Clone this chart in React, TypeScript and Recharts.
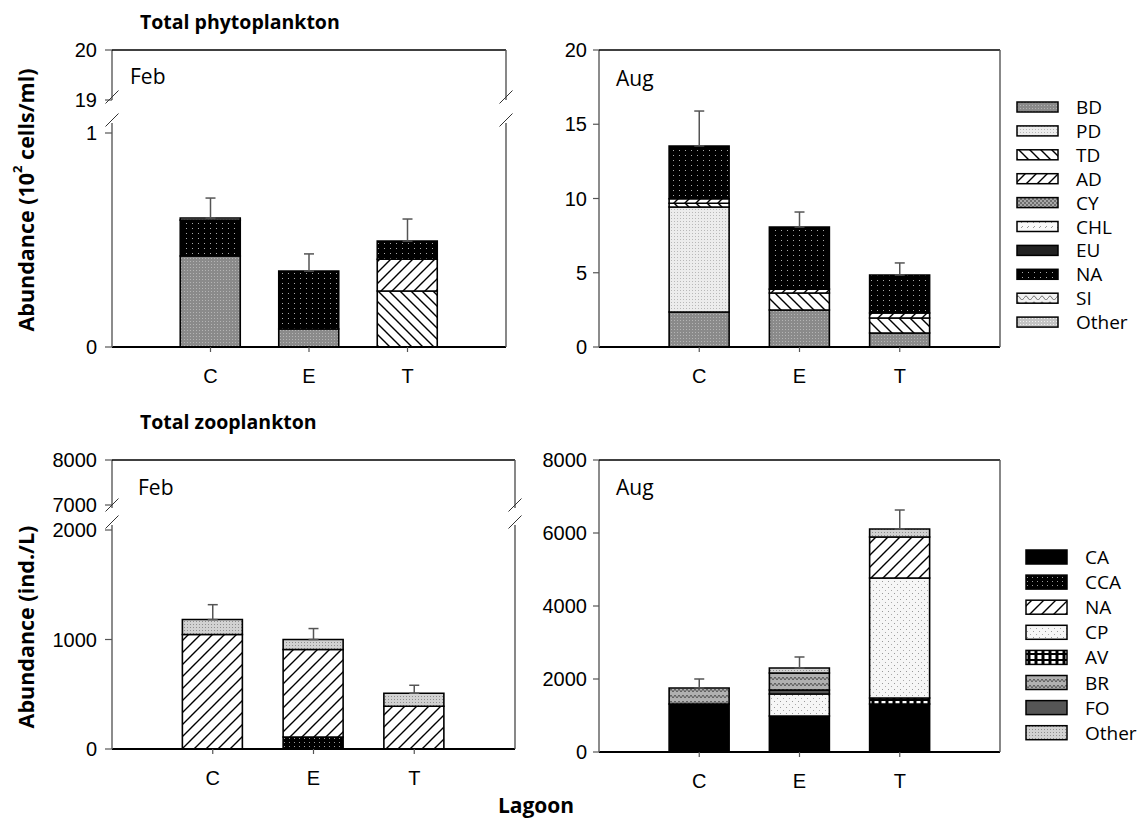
import React from "react";
import { ComposedChart, Bar, Scatter, ErrorBar, XAxis, YAxis } from "recharts";

const lagoons = ["C", "E", "T"];

const phytoGroups = ["BD", "PD", "TD", "AD", "CY", "CHL", "EU", "NA", "SI", "Other"];
const zooGroups = ["CA", "CCA", "NA", "CP", "AV", "BR", "FO", "Other"];
// stacking order of the zooplankton bars (bottom to top)
const zooStack = ["CA", "CCA", "AV", "CP", "NA", "FO", "BR", "Other"];

// phytoplankton, Feb (10^2 cells/ml), lagoons C, E, T
const phytoFebBD = [0.425, 0.084, 0];
const phytoFebTD = [0, 0, 0.262];
const phytoFebAD = [0, 0, 0.148];
const phytoFebNA = [0.168, 0.271, 0.085];
const phytoFebOther = [0.01, 0, 0];
const phytoFebSE = [0.093, 0.08, 0.103];

// phytoplankton, Aug
const phytoAugBD = [2.36, 2.49, 0.94];
const phytoAugPD = [7.07, 0, 0];
const phytoAugTD = [0.25, 1.15, 1.01];
const phytoAugAD = [0.3, 0.26, 0.34];
const phytoAugNA = [3.56, 4.18, 2.56];
const phytoAugSE = [2.35, 1.01, 0.81];

// zooplankton, Feb (ind./L)
const zooFebCCA = [0, 109, 0];
const zooFebNA = [1045, 800, 390];
const zooFebOther = [137, 91, 119];
const zooFebSE = [136, 100, 73];

// zooplankton, Aug
const zooAugCA = [1315, 986, 1315];
const zooAugAV = [0, 0, 164];
const zooAugCP = [0, 603, 3288];
const zooAugNA = [0, 0, 1123];
const zooAugFO = [0, 110, 0];
const zooAugBR = [440, 465, 0];
const zooAugOther = [0, 137, 220];
const zooAugSE = [245, 302, 520];

const phytoFill: Record<string, string> = {
  BD: "url(#pBD)",
  PD: "url(#pPD)",
  TD: "url(#pTD)",
  AD: "url(#pAD)",
  CY: "url(#pCY)",
  CHL: "url(#pCHL)",
  EU: "#222",
  NA: "url(#pNA)",
  SI: "url(#pSI)",
  Other: "url(#pOther)",
};

const zooFill: Record<string, string> = {
  CA: "#000",
  CCA: "url(#zCCA)",
  NA: "url(#zNA)",
  CP: "url(#zCP)",
  AV: "url(#zAV)",
  BR: "url(#zBR)",
  FO: "#555",
  Other: "url(#zOther)",
};

const buildRows = (series: Record<string, number[]>, se: number[]) =>
  lagoons.map((cat, i) => {
    const row: any = { cat };
    let total = 0;
    Object.keys(series).forEach((k) => {
      row[k] = series[k][i];
      total += series[k][i];
    });
    row.total = total;
    row.se = [0, se[i]];
    return row;
  });

const phytoFebData = buildRows(
  { BD: phytoFebBD, TD: phytoFebTD, AD: phytoFebAD, NA: phytoFebNA, Other: phytoFebOther },
  phytoFebSE
);
const phytoAugData = buildRows(
  { BD: phytoAugBD, PD: phytoAugPD, TD: phytoAugTD, AD: phytoAugAD, NA: phytoAugNA },
  phytoAugSE
);
const zooFebData = buildRows({ CCA: zooFebCCA, NA: zooFebNA, Other: zooFebOther }, zooFebSE);
const zooAugData = buildRows(
  {
    CA: zooAugCA,
    AV: zooAugAV,
    CP: zooAugCP,
    NA: zooAugNA,
    FO: zooAugFO,
    BR: zooAugBR,
    Other: zooAugOther,
  },
  zooAugSE
);

const TICK_FONT = '"Liberation Sans", Arial, sans-serif';
const TEXT_FONT = '"Open Sans", sans-serif';

type Box = { x0: number; y0: number; x1: number; y1: number };

// plot areas in page pixels
const phFebUp: Box = { x0: 112, y0: 50, x1: 506, y1: 100 };
const phFebLo: Box = { x0: 112, y0: 123, x1: 506, y1: 347 };
const phAug: Box = { x0: 599, y0: 50, x1: 1000, y1: 347 };
const zFebUp: Box = { x0: 112, y0: 460, x1: 515, y1: 508 };
const zFebLo: Box = { x0: 112, y0: 525, x1: 515, y1: 749 };
const zAug: Box = { x0: 599, y0: 460, x1: 1000, y1: 752 };

const PAD_L = 90;
const PAD_T = 12;
const PAD_R = 12;
const PAD_B = 50;
const PAD_B_UPPER = 16;

interface PanelProps {
  box: Box;
  data: any[];
  stack: string[];
  fills: Record<string, string>;
  domain: [number, number];
  ticks: number[];
  showX: boolean;
  tickSize: number;
  tickMargin: number;
}

const Panel = ({ box, data, stack, fills, domain, ticks, showX, tickSize, tickMargin }: PanelProps) => {
  const w = box.x1 - box.x0;
  const h = box.y1 - box.y0;
  const used = stack.filter((k) => data.some((d) => d[k] !== undefined));
  return (
    <div style={{ position: "absolute", left: box.x0 - PAD_L, top: box.y0 - PAD_T }}>
      <ComposedChart
        width={w + PAD_L + PAD_R}
        height={h + PAD_T + (showX ? PAD_B : PAD_B_UPPER)}
        data={data}
        margin={{ top: PAD_T, right: PAD_R, bottom: showX ? 0 : PAD_B_UPPER, left: 0 }}
      >
        <XAxis
          dataKey="cat"
          hide={!showX}
          height={PAD_B}
          padding={{ left: w / 8, right: w / 8 }}
          axisLine={{ stroke: "#000", strokeWidth: 2 }}
          tickLine={{ stroke: "#555", strokeWidth: 1.2 }}
          tickSize={5}
          tickMargin={17}
          tick={{ fill: "#000", fontSize: 20, fontFamily: TICK_FONT }}
        />
        <YAxis
          type="number"
          width={PAD_L}
          domain={domain}
          ticks={ticks}
          allowDataOverflow
          interval={0}
          axisLine={{ stroke: "#666", strokeWidth: 1.5 }}
          tickLine={{ stroke: "#555", strokeWidth: 1.2 }}
          tickSize={tickSize}
          tickMargin={tickMargin}
          tick={{ fill: "#000", fontSize: 20, fontFamily: TICK_FONT }}
        />
        {used.map((k) => (
          <Bar
            key={k}
            dataKey={k}
            stackId="a"
            barSize={60}
            fill={fills[k]}
            stroke="#000"
            strokeWidth={1.6}
            isAnimationActive={false}
          />
        ))}
        {used.length > 0 && (
          <Scatter dataKey="total" shape={() => <g />} isAnimationActive={false}>
            <ErrorBar
              dataKey="se"
              direction="y"
              width={5}
              stroke="#555"
              strokeWidth={1.5}
              isAnimationActive={false}
            />
          </Scatter>
        )}
      </ComposedChart>
    </div>
  );
};

const Patterns = () => (
  <svg width={0} height={0} style={{ position: "absolute", left: 0, top: 0 }}>
    <defs>
      <pattern id="pBD" width={3} height={3} patternUnits="userSpaceOnUse">
        <rect width={3} height={3} fill="#8a8a8a" />
        <rect width={1} height={1} fill="#b4b4b4" />
      </pattern>
      <pattern id="pPD" width={3} height={3} patternUnits="userSpaceOnUse">
        <rect width={3} height={3} fill="#ececec" />
        <rect width={1} height={1} fill="#b8b8b8" />
      </pattern>
      <pattern id="pTD" width={11} height={11} patternUnits="userSpaceOnUse">
        <rect width={11} height={11} fill="#fff" />
        <path d="M0 0L11 11M-3 8L3 14M8 -3L14 3" stroke="#000" strokeWidth={1.4} />
      </pattern>
      <pattern id="pAD" width={11} height={11} patternUnits="userSpaceOnUse">
        <rect width={11} height={11} fill="#fff" />
        <path d="M0 11L11 0M-3 3L3 -3M8 14L14 8" stroke="#000" strokeWidth={1.4} />
      </pattern>
      <pattern id="pCY" width={4} height={4} patternUnits="userSpaceOnUse">
        <rect width={4} height={4} fill="#6e6e6e" />
        <rect width={2} height={2} fill="#a8a8a8" />
        <rect x={2} y={2} width={2} height={2} fill="#a8a8a8" />
      </pattern>
      <pattern id="pCHL" width={6} height={5} patternUnits="userSpaceOnUse">
        <rect width={6} height={5} fill="#fafafa" />
        <path d="M1 3L3 1" stroke="#999" strokeWidth={1} />
      </pattern>
      <pattern id="pNA" width={6} height={5} patternUnits="userSpaceOnUse">
        <rect width={6} height={5} fill="#000" />
        <rect x={2} y={2} width={1} height={1} fill="#aaa" />
      </pattern>
      <pattern id="pSI" width={8} height={6} patternUnits="userSpaceOnUse">
        <rect width={8} height={6} fill="#f2f2f2" />
        <path d="M0 4Q2 0 4 4T8 4" stroke="#777" fill="none" strokeWidth={1} />
      </pattern>
      <pattern id="pOther" width={3} height={3} patternUnits="userSpaceOnUse">
        <rect width={3} height={3} fill="#c4c4c4" />
        <rect width={1} height={1} fill="#f0f0f0" />
      </pattern>
      <pattern id="zCCA" width={5} height={4} patternUnits="userSpaceOnUse">
        <rect width={5} height={4} fill="#000" />
        <rect x={2} y={1} width={1} height={1} fill="#999" />
      </pattern>
      <pattern id="zNA" width={12} height={12} patternUnits="userSpaceOnUse">
        <rect width={12} height={12} fill="#fff" />
        <path d="M0 12L12 0M-3 3L3 -3M9 15L15 9" stroke="#000" strokeWidth={1.4} />
      </pattern>
      <pattern id="zCP" width={6} height={6} patternUnits="userSpaceOnUse">
        <rect width={6} height={6} fill="#f6f6f6" />
        <rect x={1} y={1} width={1} height={1} fill="#999" />
        <rect x={4} y={4} width={1} height={1} fill="#aaa" />
      </pattern>
      <pattern id="zAV" width={7} height={6} patternUnits="userSpaceOnUse">
        <rect width={7} height={6} fill="#000" />
        <rect x={1.5} y={1} width={4} height={4} fill="#fff" />
      </pattern>
      <pattern id="zBR" width={8} height={6} patternUnits="userSpaceOnUse">
        <rect width={8} height={6} fill="#b0b0b0" />
        <path d="M0 4L2 1L4 4L6 1L8 4" stroke="#555" fill="none" strokeWidth={1} />
      </pattern>
      <pattern id="zOther" width={3} height={3} patternUnits="userSpaceOnUse">
        <rect width={3} height={3} fill="#d2d2d2" />
        <rect width={1} height={1} fill="#8e8e8e" />
      </pattern>
    </defs>
  </svg>
);

const Frame = ({ box, upper }: { box: Box; upper?: Box }) => {
  const top = upper ? upper.y0 : box.y0;
  const parts = upper
    ? [
        [upper.y0, upper.y1],
        [box.y0, box.y1],
      ]
    : [[box.y0, box.y1]];
  return (
    <g>
      <line x1={box.x0} y1={top} x2={box.x1} y2={top} stroke="#000" strokeWidth={1.4} />
      {parts.map(([a, b], i) => (
        <line key={i} x1={box.x1} y1={a} x2={box.x1} y2={b} stroke="#555" strokeWidth={1.4} />
      ))}
      {upper &&
        [box.x0, box.x1].map((x) =>
          [upper.y1 - 3, box.y0 - 3].map((c) => (
            <line
              key={`${x}-${c}`}
              x1={x - 6.5}
              y1={c + 6.5}
              x2={x + 6.5}
              y2={c - 6.5}
              stroke="#333"
              strokeWidth={1}
            />
          ))
        )}
    </g>
  );
};

const LegendBlock = ({
  items,
  fills,
  x,
  y,
  rowH,
  swH,
}: {
  items: string[];
  fills: Record<string, string>;
  x: number;
  y: number;
  rowH: number;
  swH: number;
}) => (
  <g>
    {items.map((k, i) => (
      <g key={k}>
        <rect
          x={x}
          y={y + i * rowH - swH / 2}
          width={41}
          height={swH}
          fill={fills[k]}
          stroke="#000"
          strokeWidth={1.5}
        />
        <text
          x={x + 59}
          y={y + i * rowH}
          dominantBaseline="central"
          fontFamily={TEXT_FONT}
          fontSize={19}
          fill="#000"
        >
          {k}
        </text>
      </g>
    ))}
  </g>
);

const Overlay = () => (
  <svg
    width={1145}
    height={825}
    style={{ position: "absolute", left: 0, top: 0, pointerEvents: "none" }}
  >
    <Frame box={phFebLo} upper={phFebUp} />
    <Frame box={phAug} />
    <Frame box={zFebLo} upper={zFebUp} />
    <Frame box={zAug} />

    <text x={140} y={29} fontFamily={TEXT_FONT} fontWeight={700} fontSize={19.5}>
      Total phytoplankton
    </text>
    <text x={140} y={429} fontFamily={TEXT_FONT} fontWeight={700} fontSize={19.5}>
      Total zooplankton
    </text>

    <text x={130} y={84} fontFamily={TEXT_FONT} fontSize={21}>Feb</text>
    <text x={616} y={86} fontFamily={TEXT_FONT} fontSize={21}>Aug</text>
    <text x={138} y={495} fontFamily={TEXT_FONT} fontSize={21}>Feb</text>
    <text x={616} y={495} fontFamily={TEXT_FONT} fontSize={21}>Aug</text>

    <text
      transform="translate(25, 200) rotate(-90)"
      textAnchor="middle"
      dominantBaseline="central"
      fontFamily={TEXT_FONT}
      fontWeight={700}
      fontSize={21.5}
    >
      Abundance (10
      <tspan dy={-8} fontSize={13}>
        2
      </tspan>
      <tspan dy={8}> cells/ml)</tspan>
    </text>
    <text
      transform="translate(25, 627) rotate(-90)"
      textAnchor="middle"
      dominantBaseline="central"
      fontFamily={TEXT_FONT}
      fontWeight={700}
      fontSize={21.5}
    >
      Abundance (ind./L)
    </text>
    <text
      x={536}
      y={813}
      textAnchor="middle"
      fontFamily={TEXT_FONT}
      fontWeight={700}
      fontSize={21}
    >
      Lagoon
    </text>

    <LegendBlock items={phytoGroups} fills={phytoFill} x={1017} y={107} rowH={23.9} swH={10} />
    <LegendBlock items={zooGroups} fills={zooFill} x={1026} y={557} rowH={25.1} swH={14} />
  </svg>
);

export default function App() {
  return (
    <div
      style={{
        position: "absolute",
        left: 0,
        top: 0,
        width: 1145,
        height: 825,
        background: "#fff",
        overflow: "hidden",
      }}
    >
      <Patterns />
      <Panel
        box={phFebUp}
        data={phytoFebData}
        stack={[]}
        fills={phytoFill}
        domain={[19, 20]}
        ticks={[19, 20]}
        showX={false}
        tickSize={7}
        tickMargin={8}
      />
      <Panel
        box={phFebLo}
        data={phytoFebData}
        stack={phytoGroups}
        fills={phytoFill}
        domain={[0, 224 / 214]}
        ticks={[0, 1]}
        showX
        tickSize={7}
        tickMargin={8}
      />
      <Panel
        box={phAug}
        data={phytoAugData}
        stack={phytoGroups}
        fills={phytoFill}
        domain={[0, 20]}
        ticks={[0, 5, 10, 15, 20]}
        showX
        tickSize={6}
        tickMargin={6}
      />
      <Panel
        box={zFebUp}
        data={zooFebData}
        stack={[]}
        fills={zooFill}
        domain={[8000 - 48 / 0.045, 8000]}
        ticks={[7000, 8000]}
        showX={false}
        tickSize={7}
        tickMargin={8}
      />
      <Panel
        box={zFebLo}
        data={zooFebData}
        stack={zooStack}
        fills={zooFill}
        domain={[0, 224 / 0.1095]}
        ticks={[0, 1000, 2000]}
        showX
        tickSize={7}
        tickMargin={8}
      />
      <Panel
        box={zAug}
        data={zooAugData}
        stack={zooStack}
        fills={zooFill}
        domain={[0, 8000]}
        ticks={[0, 2000, 4000, 6000, 8000]}
        showX
        tickSize={6}
        tickMargin={6}
      />
      <Overlay />
    </div>
  );
}
